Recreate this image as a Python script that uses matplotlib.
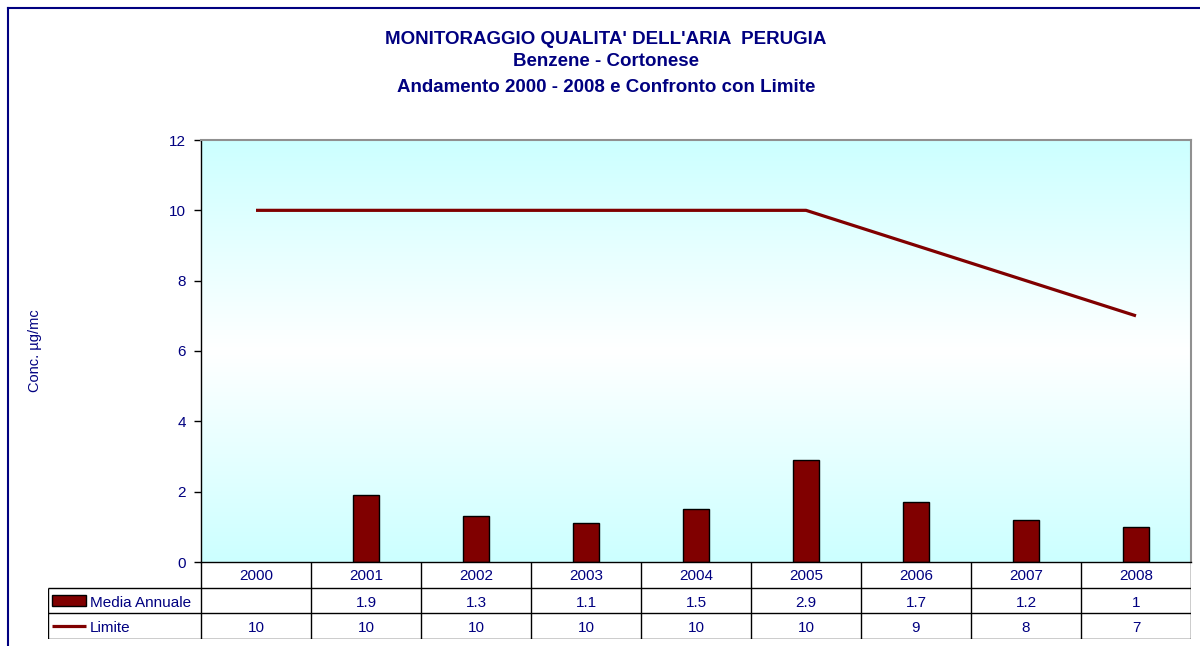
import numpy as np
import matplotlib
matplotlib.use('Agg')
import matplotlib.pyplot as plt
from matplotlib.patches import Rectangle
from matplotlib.lines import Line2D

plt.rcParams['font.family'] = ['Liberation Sans', 'DejaVu Sans']

years = ['2000', '2001', '2002', '2003', '2004', '2005', '2006', '2007', '2008']
media = [np.nan, 1.9, 1.3, 1.1, 1.5, 2.9, 1.7, 1.2, 1]
limite = [10, 10, 10, 10, 10, 10, 9, 8, 7]
titles = ["MONITORAGGIO QUALITA' DELL'ARIA  PERUGIA", "Benzene - Cortonese",
          "Andamento 2000 - 2008 e Confronto con Limite"]

navy = '#000080'
maroon = '#800000'
W, H = 1200, 646

fig = plt.figure(figsize=(W / 100, H / 100), dpi=100)

# outer frame
fig.add_artist(Line2D([8 / W, 8 / W], [0, 1 - 8 / H], color=navy, lw=1.5))
fig.add_artist(Line2D([8 / W, 1], [1 - 8 / H, 1 - 8 / H], color=navy, lw=1.5))

for t, yp in zip(titles, [39, 62, 87]):
    fig.text(606 / W, 1 - yp / H, t, ha='center', va='center', color=navy,
             fontsize=13.5, fontweight='bold')

x0p, x1p, y0p, y1p = 201, 1191, 140, 562
ax = fig.add_axes([x0p / W, 1 - y1p / H, (x1p - x0p) / W, (y1p - y0p) / H])
x = np.arange(len(years))
ax.set_xlim(-0.5, 8.5)
ax.set_ylim(0, 12)

# background gradient cyan -> white -> cyan
g = np.abs(np.linspace(-1, 1, 256))[:, None]
cyan = np.array([204, 255, 255]) / 255
img = (1 - g[..., None]) * np.ones(3) + g[..., None] * cyan
ax.imshow(img, extent=[-0.5, 8.5, 0, 12], aspect='auto', origin='lower', zorder=0)

ax.bar(x, media, width=0.23, color=maroon, edgecolor='black', linewidth=1, zorder=2)
ax.plot(x, limite, color=maroon, lw=2.3, zorder=3, solid_capstyle='butt')

ax.set_yticks(range(0, 13, 2))
ax.set_xticks([])
ax.tick_params(axis='y', direction='out', length=5, width=1, colors='black',
               labelcolor=navy, labelsize=11, pad=6)
for s in ['top', 'right']:
    ax.spines[s].set_color('#909090')
    ax.spines[s].set_linewidth(1.5)
for s in ['left', 'bottom']:
    ax.spines[s].set_color('black')
    ax.spines[s].set_linewidth(1)

fig.text(35 / W, 1 - 351 / H, 'Conc. \u00b5g/mc', rotation=90, ha='center', va='center',
         color=navy, fontsize=10.5)

# data table below the axes
tx0p, ty1p = 48, 639
tab = fig.add_axes([tx0p / W, 1 - ty1p / H, (x1p - tx0p) / W, (ty1p - y1p) / H])
unit = (x1p - x0p) / 9
xl = -0.5 - (x0p - tx0p) / unit
tab.set_xlim(xl, 8.5)
tab.set_ylim(0, 3)
tab.axis('off')
lk = dict(color='black', lw=1, solid_capstyle='butt')
for yy in [0, 1, 2]:
    tab.plot([xl, 8.5], [yy, yy], **lk)
for k in range(10):
    tab.plot([k - 0.5, k - 0.5], [0, 3], **lk)
tab.plot([xl, xl], [0, 2], **lk)

for i, yr in enumerate(years):
    tab.text(i, 2.45, yr, ha='center', va='center', color=navy, fontsize=11)
    if not np.isnan(media[i]):
        tab.text(i, 1.42, f'{media[i]:g}', ha='center', va='center', color=navy, fontsize=11)
    tab.text(i, 0.42, f'{limite[i]:g}', ha='center', va='center', color=navy, fontsize=11)

# legend keys
kx0 = xl + 4 / unit
kx1 = xl + 38 / unit
tab.add_patch(Rectangle((kx0, 1.3), kx1 - kx0, 0.4, facecolor=maroon, edgecolor='black', lw=1))
tab.plot([kx0, kx1], [0.5, 0.5], color=maroon, lw=2.3, solid_capstyle='butt')
tab.text(xl + 42 / unit, 1.42, 'Media Annuale', ha='left', va='center', color=navy, fontsize=11)
tab.text(xl + 42 / unit, 0.42, 'Limite', ha='left', va='center', color=navy, fontsize=11)

fig.savefig('out.png', dpi=100)
